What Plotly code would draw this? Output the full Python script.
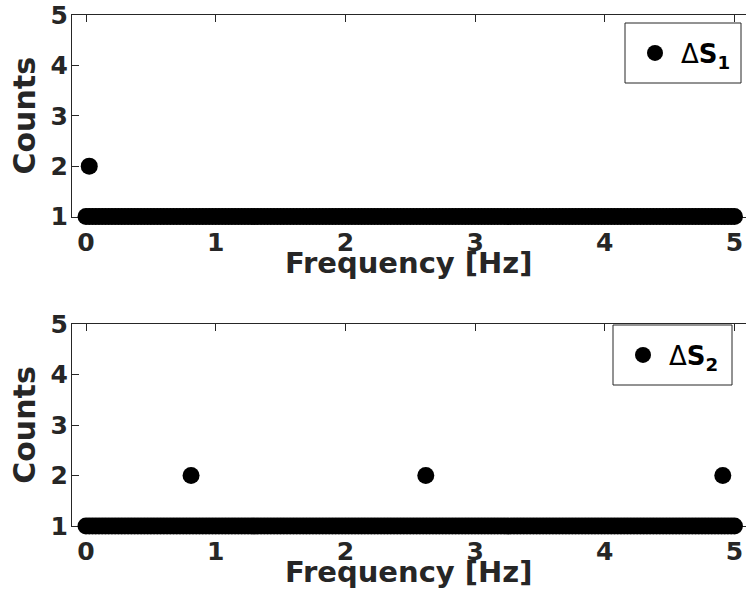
import plotly.graph_objects as go

# Frequencies (Hz) observed once (count = 1) -- dense band in both panels
band_freqs = [
    0.000, 0.025, 0.050, 0.075, 0.100, 0.125, 0.150, 0.175, 0.200, 0.225,
    0.250, 0.275, 0.300, 0.325, 0.350, 0.375, 0.400, 0.425, 0.450, 0.475,
    0.500, 0.525, 0.550, 0.575, 0.600, 0.625, 0.650, 0.675, 0.700, 0.725,
    0.750, 0.775, 0.800, 0.825, 0.850, 0.875, 0.900, 0.925, 0.950, 0.975,
    1.000, 1.025, 1.050, 1.075, 1.100, 1.125, 1.150, 1.175, 1.200, 1.225,
    1.250, 1.275, 1.300, 1.325, 1.350, 1.375, 1.400, 1.425, 1.450, 1.475,
    1.500, 1.525, 1.550, 1.575, 1.600, 1.625, 1.650, 1.675, 1.700, 1.725,
    1.750, 1.775, 1.800, 1.825, 1.850, 1.875, 1.900, 1.925, 1.950, 1.975,
    2.000, 2.025, 2.050, 2.075, 2.100, 2.125, 2.150, 2.175, 2.200, 2.225,
    2.250, 2.275, 2.300, 2.325, 2.350, 2.375, 2.400, 2.425, 2.450, 2.475,
    2.500, 2.525, 2.550, 2.575, 2.600, 2.625, 2.650, 2.675, 2.700, 2.725,
    2.750, 2.775, 2.800, 2.825, 2.850, 2.875, 2.900, 2.925, 2.950, 2.975,
    3.000, 3.025, 3.050, 3.075, 3.100, 3.125, 3.150, 3.175, 3.200, 3.225,
    3.250, 3.275, 3.300, 3.325, 3.350, 3.375, 3.400, 3.425, 3.450, 3.475,
    3.500, 3.525, 3.550, 3.575, 3.600, 3.625, 3.650, 3.675, 3.700, 3.725,
    3.750, 3.775, 3.800, 3.825, 3.850, 3.875, 3.900, 3.925, 3.950, 3.975,
    4.000, 4.025, 4.050, 4.075, 4.100, 4.125, 4.150, 4.175, 4.200, 4.225,
    4.250, 4.275, 4.300, 4.325, 4.350, 4.375, 4.400, 4.425, 4.450, 4.475,
    4.500, 4.525, 4.550, 4.575, 4.600, 4.625, 4.650, 4.675, 4.700, 4.725,
    4.750, 4.775, 4.800, 4.825, 4.850, 4.875, 4.900, 4.925, 4.950, 4.975,
    5.000,
]
band_counts = [1] * len(band_freqs)

# Frequencies with a count of 2
s1_peak_freqs = [0.025]
s1_peak_counts = [2]
s2_peak_freqs = [0.81, 2.62, 4.91]
s2_peak_counts = [2, 2, 2]

y_ticks = [1, 2, 3, 4, 5]
x_ticks = [0, 1, 2, 3, 4, 5]
x_title = "Frequency [Hz]"
y_title = "Counts"

AX = "#262626"
FONT = "DejaVu Sans, Liberation Sans, Arial, sans-serif"

fig = go.Figure()

fig.add_trace(go.Scatter(
    x=band_freqs + s1_peak_freqs, y=band_counts + s1_peak_counts,
    mode="markers", name="\u0394<b>S<sub>1</sub></b>",
    marker=dict(color="black", size=17, line=dict(width=0)),
    cliponaxis=False, xaxis="x", yaxis="y", legend="legend",
))
fig.add_trace(go.Scatter(
    x=band_freqs + s2_peak_freqs, y=band_counts + s2_peak_counts,
    mode="markers", name="\u0394<b>S<sub>2</sub></b>",
    marker=dict(color="black", size=17, line=dict(width=0)),
    cliponaxis=False, xaxis="x2", yaxis="y2", legend="legend2",
))

W, H = 746, 607
x_dom = [72 / W, 1.0]
x_rng = [-0.108, 5.089]
top_dom = [1 - 216.5 / H, 1 - 15 / H]
bot_dom = [1 - 526 / H, 1 - 324 / H]

def xa(anchor):
    return dict(
        domain=x_dom, range=x_rng, anchor=anchor, tickvals=x_ticks,
        ticks="inside", ticklen=7, tickwidth=1, tickcolor=AX,
        showline=True, linecolor=AX, linewidth=1, mirror="ticks",
        showgrid=False, zeroline=False, layer="below traces",
        automargin=False, ticklabelstandoff=3,
        tickfont=dict(family=FONT, size=25, color=AX, weight="bold"),
    )

def ya(anchor, dom):
    return dict(
        domain=dom, range=[1, 5], anchor=anchor, tickvals=y_ticks,
        ticks="inside", ticklen=7, tickwidth=1, tickcolor=AX,
        showline=True, linecolor=AX, linewidth=1, mirror=False,
        showgrid=False, zeroline=False, layer="below traces",
        automargin=False, ticklabelstandoff=-2,
        tickfont=dict(family=FONT, size=25, color=AX, weight="bold"),
        title=dict(text=y_title, standoff=6,
                   font=dict(family=FONT, size=30, color=AX, weight="bold")),
    )

def ya_right(overlay):
    # right-hand tick marks (box style), without a visible right spine
    return dict(
        overlaying=overlay, side="right", anchor="free", position=1.0,
        range=[1, 5], tickvals=y_ticks, ticks="inside", ticklen=6,
        tickwidth=1, tickcolor=AX, showline=False, showticklabels=False,
        showgrid=False, zeroline=False, automargin=False,
    )

def legend_box(x0, x1, y0, y1):
    return dict(type="rect", xref="paper", yref="paper",
                x0=x0 / W, x1=x1 / W, y0=1 - y1 / H, y1=1 - y0 / H,
                line=dict(color=AX, width=1), fillcolor="white", layer="above")

def xtitle(ypx):
    return dict(text=x_title, xref="paper", yref="paper",
                x=(x_dom[0] + x_dom[1]) / 2 - 0.5 / W, y=1 - ypx / H,
                xanchor="center", yanchor="middle", showarrow=False,
                font=dict(family=FONT, size=29, color=AX, weight="bold"))

fig.update_layout(
    width=W, height=H,
    margin=dict(l=0, r=0, t=0, b=0),
    paper_bgcolor="white", plot_bgcolor="white",
    xaxis=xa("y"), yaxis=ya("x", top_dom),
    xaxis2=xa("y2"), yaxis2=ya("x2", bot_dom),
    yaxis3=dict(domain=top_dom, **ya_right("y")),
    yaxis4=dict(domain=bot_dom, **ya_right("y2")),
    shapes=[legend_box(625, 741, 23, 83), legend_box(613, 732, 325, 385)],
    annotations=[xtitle(263), xtitle(572)],
    legend=dict(
        x=629 / W, xanchor="left", y=1 - 53 / H, yanchor="middle",
        borderwidth=0, bgcolor="rgba(0,0,0,0)", itemwidth=42,
        font=dict(family=FONT, size=26, color="black"),
    ),
    legend2=dict(
        x=617 / W, xanchor="left", y=1 - 355 / H, yanchor="middle",
        borderwidth=0, bgcolor="rgba(0,0,0,0)", itemwidth=42,
        font=dict(family=FONT, size=26, color="black"),
    ),
    showlegend=True,
)

fig.write_html(
    "out.html",
    config={"displayModeBar": False},
    post_script="document.body.style.margin='0px';document.body.style.overflow='hidden';",
)
